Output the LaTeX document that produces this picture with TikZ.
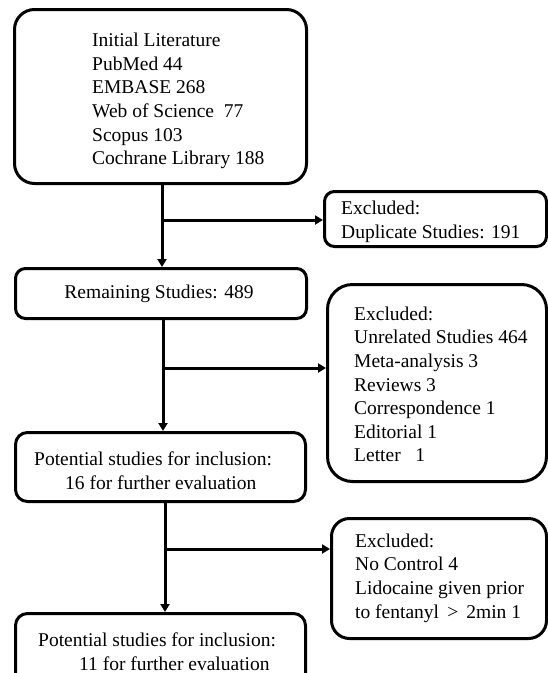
\documentclass[tikz,border=0pt]{standalone}
\usepackage{fontspec}
\setmainfont{Liberation Serif}
\usetikzlibrary{arrows.meta}
\begin{document}
\begin{tikzpicture}[x=1pt,y=-1pt,
  box/.style={draw=black, line width=3pt, rectangle, anchor=north west, inner sep=0pt},
  txt/.style={font=\fontsize{19.5}{23.6}\selectfont, align=left, inner sep=0pt},
  conn/.style={line width=3pt, -{Triangle[length=8pt,width=9pt]}},
  plain/.style={line width=3pt}]
\useasboundingbox (0,0) rectangle (548,673);
\clip (0,0) rectangle (548,673);
\fill[white] (0,0) rectangle (548,673);
% boxes
\node[box, rounded corners=20pt, minimum width=292pt, minimum height=174pt] (b1) at (13,8) {};
\node[box, rounded corners=10pt, minimum width=222pt, minimum height=55pt] (d1) at (323,190) {};
\node[box, rounded corners=10pt, minimum width=291pt, minimum height=50pt] (b2) at (14,267) {};
\node[box, rounded corners=25pt, minimum width=219pt, minimum height=197pt] (d2) at (326,283) {};
\node[box, rounded corners=12pt, minimum width=290pt, minimum height=69pt] (b3) at (14,431) {};
\node[box, rounded corners=18pt, minimum width=215pt, minimum height=120pt] (d3) at (330,517) {};
\node[box, rounded corners=12pt, minimum width=290pt, minimum height=80pt] (b4) at (14,612) {};
% texts
\node[txt, anchor=west] (t1) at (92,101) {Initial Literature\\PubMed 44\\EMBASE 268\\Web of Science\ \ 77\\Scopus 103\\Cochrane Library 188};
\node[txt, anchor=west] (td1) at (341,222) {Excluded:\\Duplicate Studies: 191};
\node[txt, anchor=center] (t2) at (159,294) {Remaining Studies: 489};
\node[txt, anchor=west] (td2) at (354,384.5) {Excluded:\\Unrelated Studies 464\\Meta-analysis 3\\Reviews 3\\Correspondence 1\\Editorial 1\\Letter\ \ \ 1};
\node[txt, anchor=west] (t3) at (34,470.5) {Potential studies for inclusion:\\\hspace*{31pt}16 for further evaluation};
\node[txt, anchor=west] (td3) at (355,578) {Excluded:\\No Control 4\\Lidocaine given prior\\to fentanyl \,>\, 2min 1};
\node[txt, anchor=west] (t4) at (38,652) {Potential studies for inclusion:\\\hspace*{41pt}11 for further evaluation};
% connectors
\coordinate (v1) at (162,0);
\coordinate (j1) at (162,220);
\draw[conn] (b1.south -| v1) -- (b2.north -| v1);
\draw[conn] (j1) -- (j1 -| d1.west);
\coordinate (v2) at (163,0);
\coordinate (j2) at (163,368);
\draw[conn] (b2.south -| v2) -- (b3.north -| v2);
\draw[conn] (j2) -- (j2 -| d2.west);
\coordinate (v3) at (165,0);
\coordinate (j3) at (165,549);
\draw[conn] (b3.south -| v3) -- (b4.north -| v3);
\draw[conn] (j3) -- (j3 -| d3.west);
\end{tikzpicture}
\end{document}
